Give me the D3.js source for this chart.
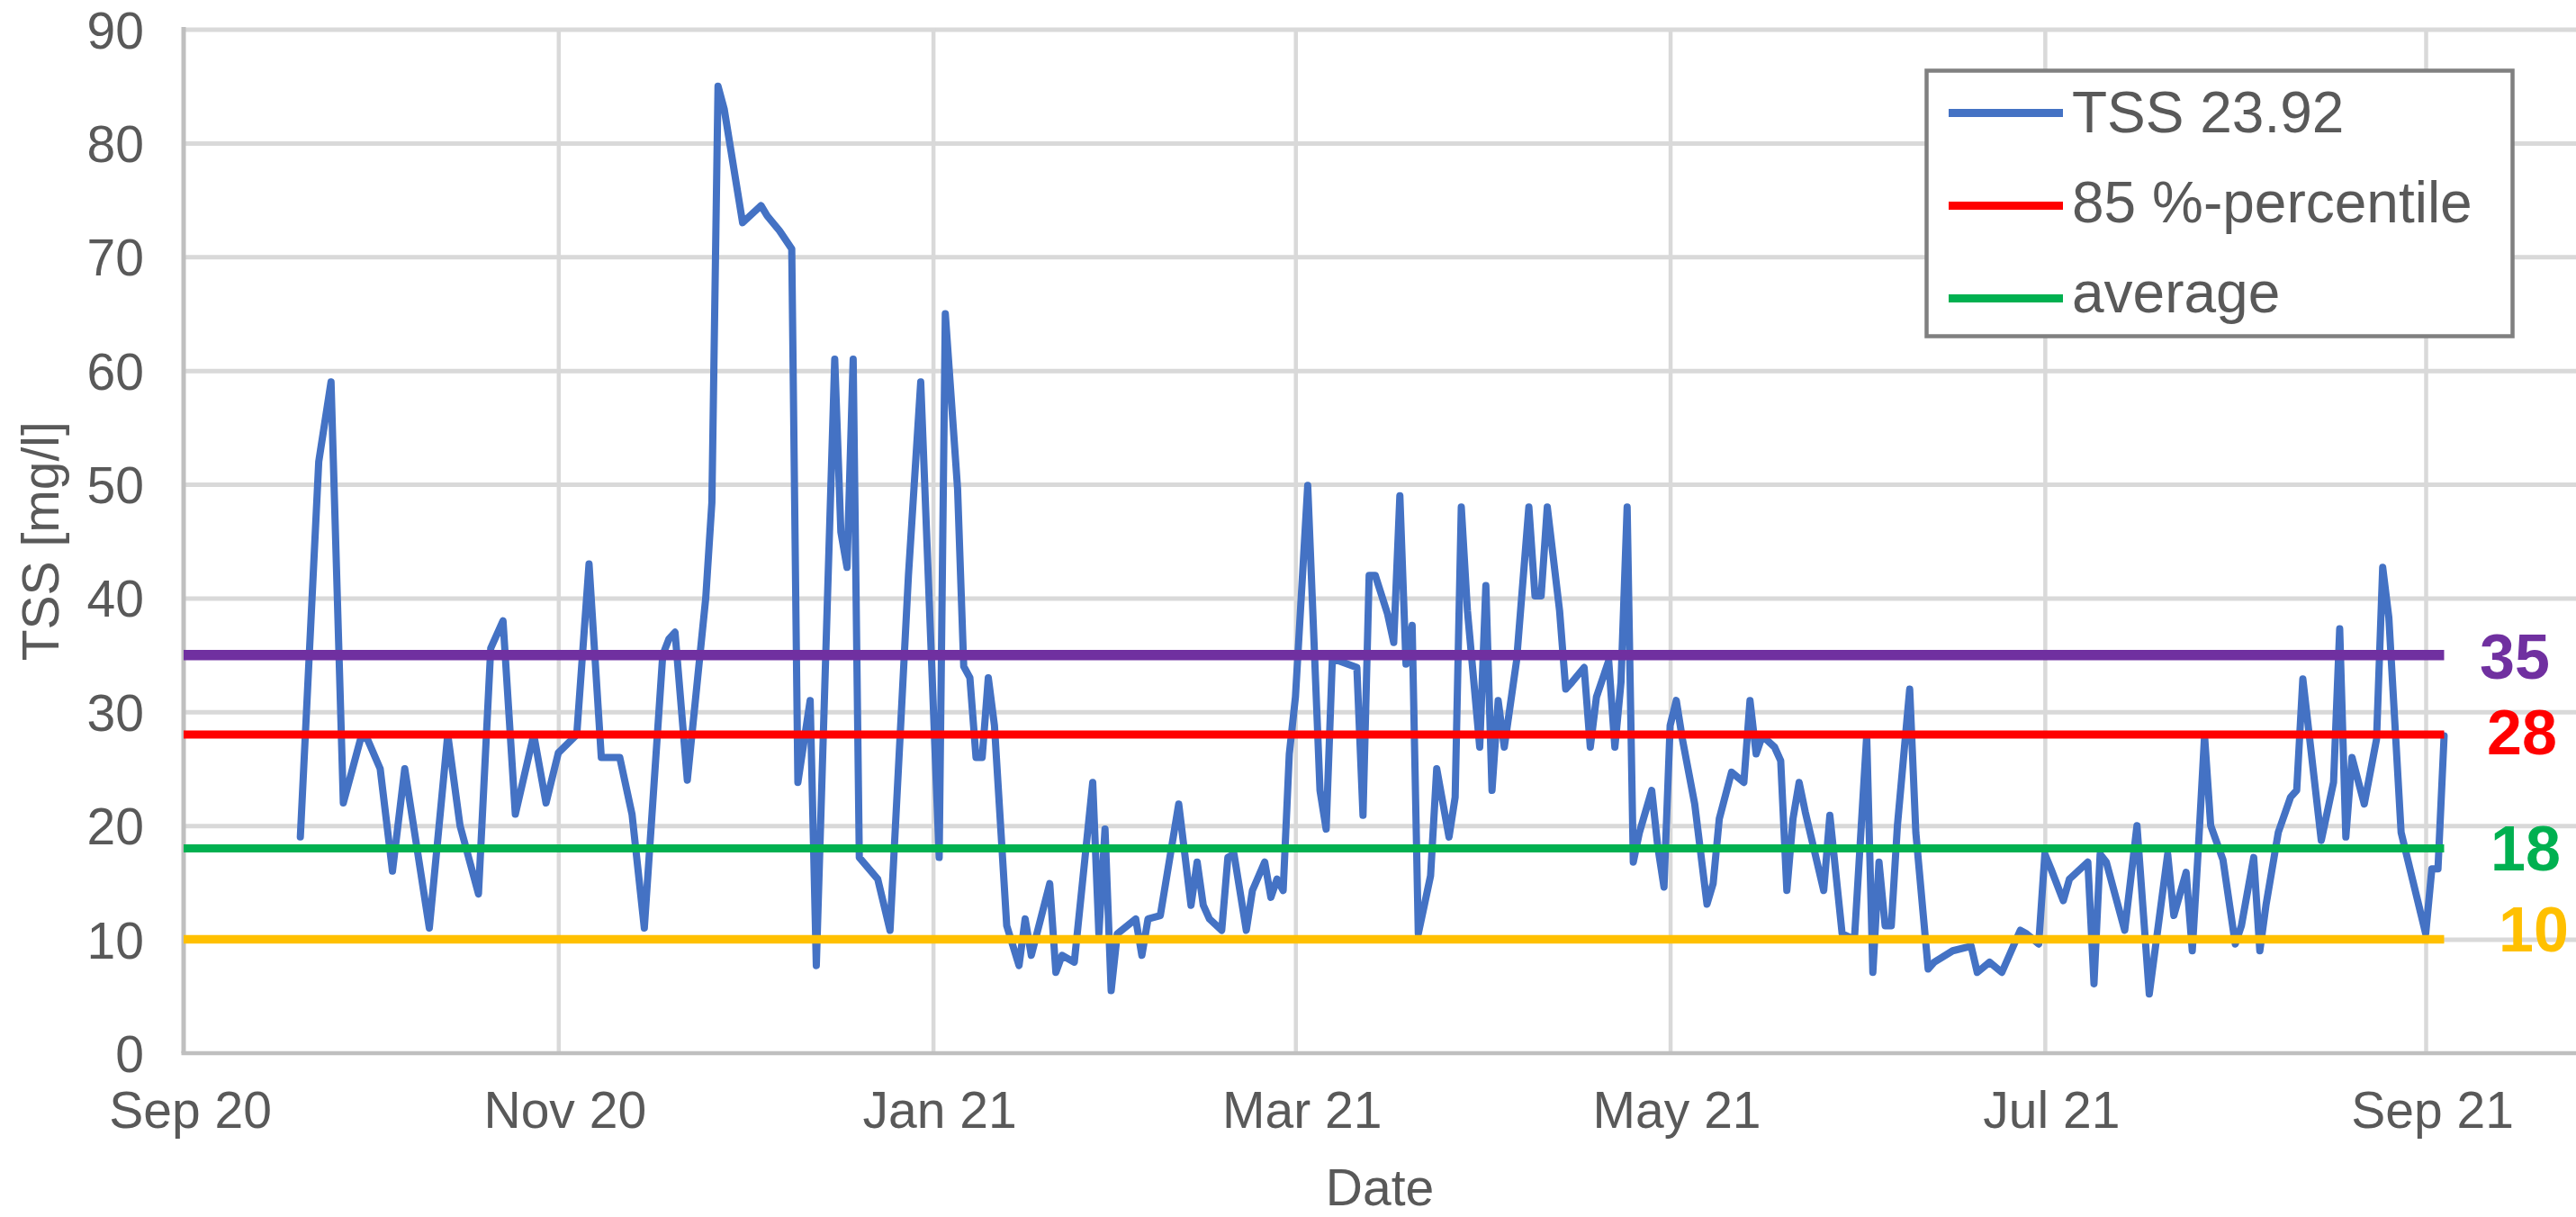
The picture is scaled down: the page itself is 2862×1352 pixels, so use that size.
<!DOCTYPE html>
<html>
<head>
<meta charset="utf-8">
<script src="https://cdn.jsdelivr.net/npm/d3@7"></script>
<style>
  html, body { margin: 0; padding: 0; background: #ffffff; }
  svg { display: block; }
  text { font-family: "Liberation Sans", Arial, sans-serif; }
</style>
</head>
<body>
<svg id="chart" width="2862" height="1352"></svg>
<script>
// ---------------- DATA ----------------
const tssDates = [
  "2020-09-20","2020-09-23","2020-09-25","2020-09-27","2020-09-30",
  "2020-10-01","2020-10-03","2020-10-05","2020-10-07","2020-10-09","2020-10-11","2020-10-14","2020-10-16","2020-10-19","2020-10-21","2020-10-23","2020-10-25","2020-10-28","2020-10-30",
  "2020-11-01","2020-11-04","2020-11-06","2020-11-08","2020-11-11","2020-11-13","2020-11-15","2020-11-18","2020-11-19","2020-11-20","2020-11-22","2020-11-25","2020-11-26","2020-11-27","2020-11-28",
  "2020-12-01","2020-12-04","2020-12-05","2020-12-07","2020-12-09","2020-12-10","2020-12-12","2020-12-13","2020-12-16","2020-12-17","2020-12-18","2020-12-19","2020-12-20","2020-12-23","2020-12-25","2020-12-28","2020-12-30",
  "2021-01-02","2021-01-03","2021-01-05","2021-01-06","2021-01-07","2021-01-08","2021-01-09","2021-01-10","2021-01-11","2021-01-13","2021-01-15","2021-01-16","2021-01-17","2021-01-20","2021-01-21","2021-01-22","2021-01-24","2021-01-27","2021-01-28","2021-01-29","2021-01-30","2021-01-31",
  "2021-02-03","2021-02-04","2021-02-05","2021-02-07","2021-02-10","2021-02-12","2021-02-13","2021-02-14","2021-02-15","2021-02-17","2021-02-18","2021-02-19","2021-02-21","2021-02-22","2021-02-24","2021-02-25","2021-02-26","2021-02-27","2021-02-28",
  "2021-03-01","2021-03-03","2021-03-05","2021-03-06","2021-03-07","2021-03-08","2021-03-11","2021-03-12","2021-03-13","2021-03-14","2021-03-16","2021-03-17","2021-03-18","2021-03-19","2021-03-20","2021-03-21","2021-03-23","2021-03-24","2021-03-26","2021-03-27","2021-03-28","2021-03-29","2021-03-31",
  "2021-04-01","2021-04-02","2021-04-03","2021-04-04","2021-04-06","2021-04-08","2021-04-09","2021-04-10","2021-04-11","2021-04-13","2021-04-14","2021-04-15","2021-04-17","2021-04-18","2021-04-19","2021-04-21","2021-04-22","2021-04-23","2021-04-24","2021-04-25","2021-04-26","2021-04-28","2021-04-29","2021-04-30",
  "2021-05-01","2021-05-02","2021-05-03","2021-05-05","2021-05-07","2021-05-08","2021-05-09","2021-05-11","2021-05-13","2021-05-14","2021-05-15","2021-05-16","2021-05-18","2021-05-19","2021-05-20","2021-05-21","2021-05-22","2021-05-23","2021-05-26","2021-05-27","2021-05-29","2021-05-31",
  "2021-06-02","2021-06-03","2021-06-04","2021-06-05","2021-06-06","2021-06-07","2021-06-09","2021-06-10","2021-06-12","2021-06-13","2021-06-16","2021-06-19","2021-06-20","2021-06-22","2021-06-24","2021-06-27","2021-06-28","2021-06-30",
  "2021-07-01","2021-07-02","2021-07-04","2021-07-05","2021-07-08","2021-07-09","2021-07-10","2021-07-11","2021-07-14","2021-07-16","2021-07-18","2021-07-19","2021-07-21","2021-07-22","2021-07-24","2021-07-25","2021-07-26","2021-07-27","2021-07-28","2021-07-30",
  "2021-08-01","2021-08-02","2021-08-04","2021-08-05","2021-08-06","2021-08-08","2021-08-10","2021-08-11","2021-08-12","2021-08-15","2021-08-17","2021-08-18","2021-08-19","2021-08-20","2021-08-22","2021-08-24","2021-08-25","2021-08-26","2021-08-28",
  "2021-09-01","2021-09-02","2021-09-03","2021-09-04"
];
const tssValues = [
  19,52,59,22,28,
  27.5,25,16,25,18,11,28,20,14,35.6,38,21,28,22,
  26.4,28,43,26,26,21,11,35,36.4,37,24,40,48.4,85,83,
  73,74.5,73.6,72.3,70.7,23.8,31,7.7,61,45.8,42.7,61,17.2,15.3,10.8,42,59,
  17.2,65,49.6,34,33,26,26,33,28.8,11.2,7.7,11.8,8.6,14.9,7.1,8.6,8,23.8,10.5,19.7,5.5,10.5,
  11.8,8.6,11.8,12.1,21.9,13,16.8,13,11.8,10.8,17.2,17.5,10.8,14.3,16.8,13.7,15.3,14.3,26.3,
  31.3,49.9,23.1,19.7,34.5,34.5,33.9,20.9,42,42,38.6,36.1,49,34.2,37.6,10.5,15.6,25,19,22.5,48,38.9,26.9,
  41.1,23.1,31,26.9,34.5,48,40.2,40.2,48,38.9,32,32.6,33.9,26.9,31.3,34.5,26.9,32.6,48,16.8,19.4,23.1,18.1,14.6,
  28.8,31,27.6,21.9,13.1,14.9,20.6,24.7,23.8,31,26.3,27.9,26.9,25.7,14.3,20.6,23.8,21.2,14.3,20.9,10.5,10,
  27.9,7.1,16.8,11.2,11.2,20,32,19.4,7.4,8,9,9.4,7.1,8,7.1,10.8,10.5,9.6,
  17.5,16.2,13.4,15.3,16.8,6.1,17.5,16.8,10.8,20,5.2,9.3,17.5,12.1,15.9,9,18.1,27.9,20,17,
  9.6,11.2,17.2,9,13,19.4,22.5,23.1,32.9,18.7,23.8,37.3,19,26,21.9,27.6,42.7,38.3,19.4,
  10.5,16.2,16.2,27.9
];

// Reference lines (constant series over the period)
const refSpan = ["2020-09-01", "2021-09-04"];
const refNames  = ["85 %-percentile", "average", "limit 35", "limit 10"];
const refValues = [28, 18, 35, 10];
const refColors = ["#FF0000", "#00B050", "#7030A0", "#FFC000"];
const refWidths = [9, 9, 11.5, 9.5];

// Legend entries
const legendLabels = ["TSS 23.92", "85 %-percentile", "average"];
const legendColors = ["#4472C4", "#FF0000", "#00B050"];

// Right-side value labels
const sideLabelValues = [35, 28, 18, 10];
const sideLabelColors = ["#7030A0", "#FF0000", "#00B050", "#FFC000"];

// Axis ticks
const yTicks = [0, 10, 20, 30, 40, 50, 60, 70, 80, 90];
const xTickDates = ["2020-09-01", "2020-11-01", "2021-01-01", "2021-03-01", "2021-05-01", "2021-07-01", "2021-09-01"];
const xTitle = "Date";
const yTitle = "TSS [mg/l]";

// ---------------- CHART ----------------
const W = 2862, H = 1352;
const plotLeft = 204, plotRight = 2862, plotTop = 32.5, plotBottom = 1170;
const parse = d3.utcParse("%Y-%m-%d");

const x = d3.scaleUtc()
  .domain([parse("2020-09-01"), parse("2021-09-01")])
  .range([plotLeft, 2695]);
const y = d3.scaleLinear().domain([0, 90]).range([plotBottom, plotTop]);

const svg = d3.select("#chart");
svg.append("rect").attr("width", W).attr("height", H).attr("fill", "#ffffff");

const textColor = "#595959";
const gridColor = "#d9d9d9";

// Horizontal gridlines (via axis)
const gy = svg.append("g")
  .attr("transform", `translate(${plotLeft},0)`)
  .call(d3.axisRight(y).tickValues(yTicks.filter(v => v > 0)).tickSize(plotRight - plotLeft).tickFormat(""));
gy.select(".domain").remove();
gy.selectAll(".tick line").attr("stroke", gridColor).attr("stroke-width", 5);

// Vertical gridlines
const xTicks = xTickDates.map(parse);
const gx = svg.append("g")
  .attr("transform", `translate(0,${plotBottom})`)
  .call(d3.axisTop(x).tickValues(xTicks.slice(1)).tickSize(plotBottom - plotTop).tickFormat(""));
gx.select(".domain").remove();
gx.selectAll(".tick line").attr("stroke", gridColor).attr("stroke-width", 4.5);

// Axis lines
svg.append("line")
  .attr("x1", plotLeft).attr("x2", plotLeft)
  .attr("y1", plotTop - 2.5).attr("y2", plotBottom)
  .attr("stroke", "#bfbfbf").attr("stroke-width", 5);
svg.append("line")
  .attr("x1", plotLeft - 2.5).attr("x2", plotRight)
  .attr("y1", plotBottom).attr("y2", plotBottom)
  .attr("stroke", "#bfbfbf").attr("stroke-width", 4.5);

// Y tick labels
const yAxis = svg.append("g")
  .attr("transform", `translate(${plotLeft},0)`)
  .call(d3.axisLeft(y).tickValues(yTicks).tickSize(0).tickPadding(44));
yAxis.select(".domain").remove();
yAxis.selectAll("text")
  .attr("font-family", "'Liberation Sans', Arial, sans-serif")
  .attr("font-size", 57).attr("fill", textColor)
  .attr("dy", null).attr("dominant-baseline", null)
  .attr("y", 20.5);

// X tick labels
const xAxis = svg.append("g")
  .attr("transform", `translate(0,${plotBottom})`)
  .call(d3.axisBottom(x).tickValues(xTicks).tickSize(0).tickFormat(d3.utcFormat("%b %y")));
xAxis.select(".domain").remove();
xAxis.selectAll("text")
  .attr("font-family", "'Liberation Sans', Arial, sans-serif")
  .attr("font-size", 57).attr("fill", textColor)
  .attr("dy", null).attr("x", 7).attr("y", 83);

// Axis titles
svg.append("text")
  .attr("x", (plotLeft + plotRight) / 2).attr("y", 1339)
  .attr("text-anchor", "middle")
  .attr("font-size", 57).attr("fill", textColor)
  .text(xTitle);
svg.append("text")
  .attr("transform", `translate(65,${(plotTop + plotBottom) / 2}) rotate(-90)`)
  .attr("text-anchor", "middle")
  .attr("font-size", 57).attr("fill", textColor)
  .text(yTitle);

// TSS line
const tssData = tssDates.map((d, i) => ({ date: parse(d), value: tssValues[i] }));
const line = d3.line().x(d => x(d.date)).y(d => y(d.value));
svg.append("path")
  .datum(tssData)
  .attr("d", line)
  .attr("fill", "none")
  .attr("stroke", "#4472C4")
  .attr("stroke-width", 8)
  .attr("stroke-linejoin", "round")
  .attr("stroke-linecap", "round");

// Reference lines: red, green, then purple, yellow
refValues.forEach((v, i) => {
  const pts = refSpan.map(d => ({ date: parse(d), value: v }));
  svg.append("path")
    .datum(pts)
    .attr("d", line)
    .attr("fill", "none")
    .attr("stroke", refColors[i])
    .attr("stroke-width", refWidths[i]);
});

// Legend
const lg = svg.append("g");
lg.append("rect")
  .attr("x", 2140.5).attr("y", 78.5).attr("width", 651).attr("height", 295)
  .attr("fill", "#ffffff").attr("stroke", "#808080").attr("stroke-width", 4.5);
legendLabels.forEach((lab, i) => {
  const ly = 125.5 + i * 103;
  lg.append("line")
    .attr("x1", 2165).attr("x2", 2292).attr("y1", ly).attr("y2", ly)
    .attr("stroke", legendColors[i]).attr("stroke-width", 9);
  lg.append("text")
    .attr("x", 2302).attr("y", 147 + i * 100)
    .attr("font-size", 64).attr("fill", textColor)
    .text(lab);
});

// Side value labels
const sideDx = [0, 8, 12, 21];
const sideDy = [1, -3, -1, -12];
sideLabelValues.forEach((v, i) => {
  svg.append("text")
    .attr("x", 2794 + sideDx[i])
    .attr("y", y(v) + sideDy[i] + 25)
    .attr("text-anchor", "middle")
    .attr("font-size", 70).attr("font-weight", "bold")
    .attr("fill", sideLabelColors[i])
    .text(v);
});
</script>
</body>
</html>
